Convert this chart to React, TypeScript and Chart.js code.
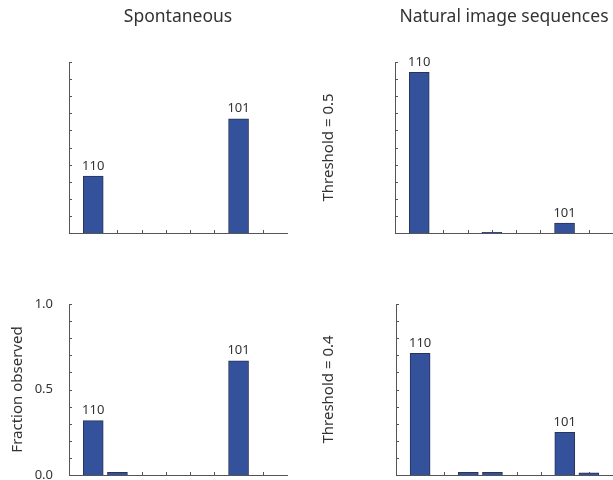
import React, { useEffect, useRef } from 'react';
import { Chart, registerables } from 'chart.js';

Chart.register(...registerables);

// ---- data ----
const categories = [1, 2, 3, 4, 5, 6, 7, 8];
const patternLabels = ['110', '', '', '', '', '', '101', ''];
const spontaneousThr05 = [0.333, 0, 0, 0, 0, 0, 0.667, 0];
const naturalThr05 = [0.94, 0, 0, 0.004, 0, 0, 0.058, 0];
const spontaneousThr04 = [0.318, 0.015, 0, 0, 0, 0, 0.668, 0];
const naturalThr04 = [0.712, 0, 0.016, 0.015, 0, 0, 0.25, 0.013];
const yTickMarks = [0, 0.1, 0.2, 0.3, 0.4, 0.5, 0.6, 0.7, 0.8, 0.9, 1.0];
const yTickLabels = [0, 0.5, 1.0];
const columnTitles = ['Spontaneous', 'Natural image sequences'];
const rowTitles = ['Threshold = 0.5', 'Threshold = 0.4'];
const yAxisTitle = 'Fraction observed';

const FONT = '"Noto Sans", "Open Sans", sans-serif';
const TEXT = '#333333';
const AXIS = '#555555';
const BAR = '#34519c';
const BAR_EDGE = '#2a3358';

type Box = { left: number; top: number; width: number; height: number };
type Plot = { left: number; right: number; top: number; bottom: number };

interface PanelCfg {
  canvas: Box;
  plot: Plot;
  values: number[];
  title?: string;
  rowTitle?: string;
  yLabels?: boolean;
}

const panels: PanelCfg[] = [
  { canvas: { left: 0, top: 0, width: 306, height: 245 }, plot: { left: 69, right: 287, top: 62, bottom: 233 }, values: spontaneousThr05, title: columnTitles[0] },
  { canvas: { left: 306, top: 0, width: 307, height: 245 }, plot: { left: 395, right: 613, top: 62, bottom: 233 }, values: naturalThr05, title: columnTitles[1], rowTitle: rowTitles[0] },
  { canvas: { left: 0, top: 245, width: 306, height: 235 }, plot: { left: 69, right: 287, top: 304, bottom: 475 }, values: spontaneousThr04, yLabels: true },
  { canvas: { left: 306, top: 245, width: 307, height: 235 }, plot: { left: 396, right: 614, top: 304, bottom: 475 }, values: naturalThr04, rowTitle: rowTitles[1] },
];

const inwardTicks = {
  id: 'inwardTicks',
  beforeDatasetsDraw(chart: any) {
    const { ctx, chartArea } = chart;
    const xs = chart.scales.x;
    const ys = chart.scales.y;
    ctx.save();
    ctx.strokeStyle = AXIS;
    ctx.lineWidth = 1;
    ctx.beginPath();
    categories.forEach((c) => {
      const px = Math.round(xs.getPixelForValue(c)) + 0.5;
      ctx.moveTo(px, chartArea.bottom);
      ctx.lineTo(px, chartArea.bottom - 3);
    });
    yTickMarks.forEach((v) => {
      const py = Math.round(ys.getPixelForValue(v)) + 0.5;
      ctx.moveTo(chartArea.left, py);
      ctx.lineTo(chartArea.left + 3, py);
    });
    ctx.stroke();
    ctx.restore();
  },
};

const barLabels = {
  id: 'barLabels',
  afterDatasetsDraw(chart: any) {
    const { ctx } = chart;
    const meta = chart.getDatasetMeta(0);
    const data = chart.data.datasets[0].data;
    ctx.save();
    ctx.font = `13px ${FONT}`;
    ctx.fillStyle = TEXT;
    ctx.textAlign = 'center';
    ctx.textBaseline = 'alphabetic';
    meta.data.forEach((el: any, i: number) => {
      const lbl = patternLabels[i];
      if (!lbl || data[i] == null || data[i].y == null) return;
      ctx.fillText(lbl, el.x, el.y - 6.5);
    });
    ctx.restore();
  },
};

function Panel({ cfg }: { cfg: PanelCfg }) {
  const ref = useRef<HTMLCanvasElement | null>(null);
  useEffect(() => {
    if (!ref.current) return;
    const { canvas, plot } = cfg;
    const titleSize = 17.5;
    const titleLH = titleSize * 1.2;
    const titleTopPad = 6.5;
    const topSpace = plot.top - canvas.top;
    const chart = new Chart(ref.current, {
      type: 'bar',
      data: {
        datasets: [
          {
            data: categories.map((c, i) => ({ x: c, y: cfg.values[i] === 0 ? null : cfg.values[i] })) as any,
            backgroundColor: BAR,
            borderColor: BAR_EDGE,
            borderWidth: 1,
            barThickness: 20,
          },
        ],
      },
      options: {
        animation: false,
        responsive: false,
        events: [],
        layout: {
          padding: {
            left: 0,
            right: canvas.left + canvas.width - plot.right,
            top: cfg.title ? 0 : topSpace,
            bottom: canvas.top + canvas.height - plot.bottom,
          },
        },
        plugins: {
          legend: { display: false },
          tooltip: { enabled: false },
          title: {
            display: !!cfg.title,
            text: cfg.title || '',
            color: TEXT,
            font: { family: FONT, size: titleSize, weight: 'normal' as any, lineHeight: 1.2 },
            padding: { top: titleTopPad, bottom: topSpace - titleTopPad - titleLH },
            fullSize: false,
          },
        },
        scales: {
          x: {
            type: 'linear',
            min: 0,
            max: 9,
            offset: false,
            grid: { display: false, drawTicks: false, offset: false },
            ticks: { display: false },
            border: { display: true, color: AXIS, width: 1 },
            afterFit: (s: any) => {
              s.height = 0;
              s.paddingLeft = 0;
              s.paddingRight = 0;
            },
          },
          y: {
            min: 0,
            max: 1,
            grid: { display: false, drawTicks: false },
            border: { display: true, color: AXIS, width: 1 },
            ticks: {
              display: !!cfg.yLabels,
              color: TEXT,
              padding: 16,
              font: { family: FONT, size: 13 },
              stepSize: 0.5,
              callback: (v: any) => (yTickLabels.includes(Number(v)) ? Number(v).toFixed(1) : ''),
            },
            title: {
              display: !!(cfg.rowTitle || cfg.yLabels),
              text: cfg.rowTitle || yAxisTitle,
              color: TEXT,
              font: { family: FONT, size: 15 },
              padding: { top: cfg.yLabels ? 9 : 14, bottom: 0 },
            },
            afterFit: (s: any) => {
              s.width = plot.left - canvas.left;
              s.paddingTop = 0;
              s.paddingBottom = 0;
            },
          },
        },
      } as any,
      plugins: [inwardTicks, barLabels],
    });
    return () => chart.destroy();
  }, [cfg]);
  const { canvas } = cfg;
  return (
    <canvas
      ref={ref}
      width={canvas.width}
      height={canvas.height}
      style={{ position: 'absolute', left: canvas.left, top: canvas.top, width: canvas.width, height: canvas.height }}
    />
  );
}

export default function App() {
  useEffect(() => {
    document.body.style.margin = '0';
    document.body.style.background = '#ffffff';
  }, []);
  return (
    <div style={{ position: 'relative', width: 613, height: 480, overflow: 'hidden', background: '#fff' }}>
      {panels.map((p, i) => (
        <Panel key={i} cfg={p} />
      ))}
    </div>
  );
}
